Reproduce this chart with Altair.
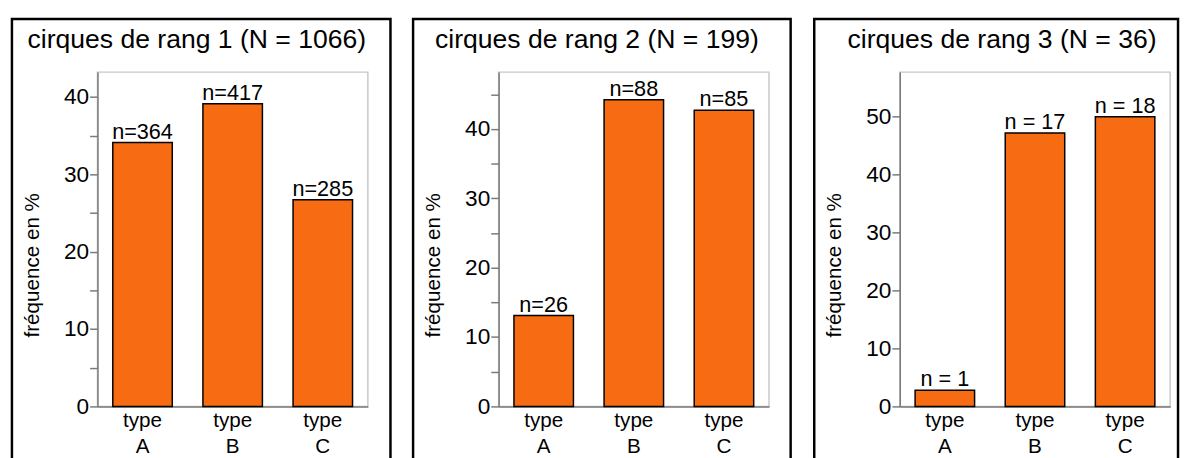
import altair as alt
import pandas as pd

FONT = "Liberation Sans"

types = ["A", "B", "C"]

titles = ["cirques de rang 1 (N = 1066)", "cirques de rang 2 (N = 199)", "cirques de rang 3 (N = 36)"]

freq1 = [34.1, 39.1, 26.7]
labels1 = ["n=364", "n=417", "n=285"]

freq2 = [13.1, 44.2, 42.7]
labels2 = ["n=26", "n=88", "n=85"]

freq3 = [2.8, 47.2, 50.0]
labels3 = ["n = 1", "n = 17", "n = 18"]

ymax = [43.2, 48.2, 57.7]
yticks = [list(range(0, 45, 5)), list(range(0, 50, 5)), list(range(0, 60, 10))]

W, H = 275, 340
box_right = [298, 297, 283]
title_x = [101, 100, 104]


def panel(title, freqs, labels, ym, ticks, br, tx):
    df = pd.DataFrame({"type": types, "freq": freqs, "label": labels})
    x = alt.X(
        "type:N",
        sort=types,
        scale=alt.Scale(paddingInner=0.34, paddingOuter=0.17),
        axis=alt.Axis(
            title=None,
            labelExpr="['type', datum.value]",
            labelAngle=0,
            labelFontSize=21,
            labelLineHeight=27,
            labelColor="black",
            labelFont=FONT,
            ticks=False,
            labelPadding=3,
            domainColor="#7a7a7a",
            domainWidth=1.5,
        ),
    )
    y = alt.Y(
        "freq:Q",
        scale=alt.Scale(domain=[0, ym], nice=False, zero=True),
        axis=alt.Axis(
            title="fréquence en %",
            titleFont=FONT,
            titleFontSize=21,
            titleFontWeight="normal",
            titleColor="black",
            titleX=-66,
            titleY=196,
            titleAngle=-90,
            titleAlign="center",
            titleBaseline="middle",
            values=ticks,
            labelExpr="datum.value % 10 == 0 ? datum.label : ''",
            labelFont=FONT,
            labelFontSize=23,
            labelColor="black",
            labelPadding=1,
            tickSize=8,
            tickColor="#7a7a7a",
            tickWidth=1.5,
            domainColor="#7a7a7a",
            domainWidth=1.5,
            grid=False,
        ),
    )
    bars = alt.Chart(df).mark_bar(color="#F76C12", stroke="black", strokeWidth=1.5).encode(x=x, y=y)
    text = alt.Chart(df).mark_text(
        baseline="alphabetic", dy=-4, fontSize=22, font=FONT, color="black"
    ).encode(x=x, y=y, text="label:N")
    one = pd.DataFrame({"k": [0]})
    box = alt.Chart(one).mark_rect(filled=False, stroke="black", strokeWidth=2.5).encode(
        x=alt.value(-87), x2=alt.value(br), y=alt.value(-54), y2=alt.value(430)
    )
    ttl = alt.Chart(one).mark_text(
        text=title, fontSize=27, font=FONT, color="black", baseline="middle", align="center"
    ).encode(x=alt.value(tx), y=alt.value(-33))
    return alt.layer(box, bars, text, ttl).properties(width=W, height=H)


p1 = panel(titles[0], freq1, labels1, ymax[0], yticks[0], box_right[0], title_x[0])
p2 = panel(titles[1], freq2, labels2, ymax[1], yticks[1], box_right[1], title_x[1])
p3 = panel(titles[2], freq3, labels3, ymax[2], yticks[2], box_right[2], title_x[2])

chart = (
    alt.hconcat(p1, p2, p3, spacing=133, bounds="flush")
    .properties(padding={"left": 2, "top": 5, "right": 0, "bottom": 0}, background="white")
    .configure_view(stroke="#c8c8c8", strokeWidth=1.5)
)

chart.save("out.html", embed_options={"renderer": "svg", "actions": False})
